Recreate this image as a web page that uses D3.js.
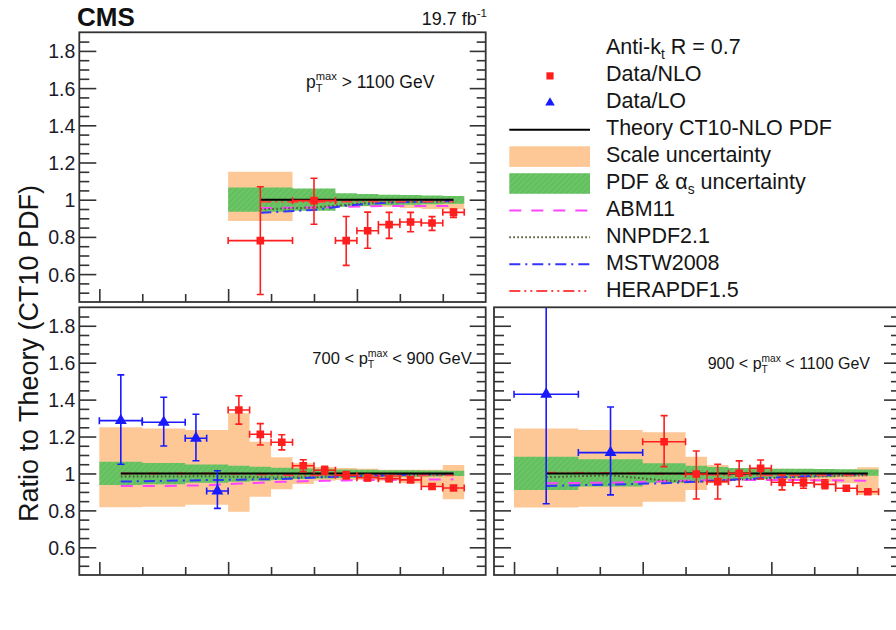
<!DOCTYPE html>
<html>
<head>
<meta charset="utf-8">
<script src="https://cdn.jsdelivr.net/npm/d3@7"></script>
<style>
  body { margin: 0; background: #fff; }
  svg { display: block; }
</style>
</head>
<body>
<svg id="chart" width="896" height="630"></svg>
<script>
// ---------------- data ----------------
// Common axes
const xDomain = [-0.467, 9];
const yDomain = [0.45, 1.9];
const yMajorTicks = [0.6, 0.8, 1.0, 1.2, 1.4, 1.6, 1.8];
const yTickLabels = ["0.6", "0.8", "1", "1.2", "1.4", "1.6", "1.8"];
const xMajorTicks = [0, 3, 6];
const xMinorTicks = [1, 2, 4, 5, 7, 8];
const ct10Ratio = 1.0;

// pT(max) > 1100 GeV
const gt1100Edges   = [3, 4.5, 5.5, 6, 6.5, 7, 7.5, 8, 8.5];
const gt1100ScaleLo = [0.885, 0.958, 0.965, 0.965, 0.962, 0.956, 0.95, 0.948];
const gt1100ScaleHi = [1.15, 1.04, 1.03, 1.025, 1.022, 1.02, 1.02, 1.02];
const gt1100PdfLo   = [0.935, 0.94, 0.962, 0.966, 0.97, 0.973, 0.975, 0.978];
const gt1100PdfHi   = [1.065, 1.06, 1.035, 1.03, 1.027, 1.025, 1.022, 1.02];
const gt1100Abm     = [0.955, 0.958, 0.962, 0.965, 0.966, 0.966, 0.966, 0.966];
const gt1100Nnpdf   = [0.948, 0.958, 0.972, 0.982, 0.986, 0.988, 0.99, 0.99];
const gt1100Mstw    = [0.93, 0.945, 0.968, 0.978, 0.984, 0.988, 0.99, 0.994];
const gt1100Hera    = [0.99, 0.988, 0.99, 0.992, 0.99, 0.99, 0.99, 0.99];
const gt1100NloEdges = [3, 4.5, 5.5, 6, 6.5, 7, 7.5, 8, 8.5];
const gt1100Nlo      = [0.78, 0.995, 0.78, 0.833, 0.866, 0.88, 0.875, 0.932];
const gt1100NloErrLo = [0.29, 0.127, 0.133, 0.094, 0.074, 0.052, 0.04, 0.027];
const gt1100NloErrHi = [0.29, 0.12, 0.13, 0.1, 0.066, 0.052, 0.034, 0.018];
const gt1100LoEdges = [];
const gt1100Lo = [];
const gt1100LoErrLo = [];
const gt1100LoErrHi = [];

// 700 < pT(max) < 900 GeV
const r700Edges   = [0, 1, 2, 3, 3.5, 4, 4.5, 5, 5.5, 6, 6.5, 7, 7.5, 8, 8.5];
const r700ScaleLo = [0.817, 0.82, 0.83, 0.793, 0.874, 0.914, 0.943, 0.96, 0.965, 0.965, 0.96, 0.947, 0.93, 0.86];
const r700ScaleHi = [1.25, 1.243, 1.236, 1.326, 1.172, 1.088, 1.055, 1.035, 1.03, 1.025, 1.02, 1.02, 1.02, 1.046];
const r700PdfLo   = [0.938, 0.942, 0.95, 0.955, 0.96, 0.965, 0.97, 0.973, 0.976, 0.978, 0.98, 0.982, 0.984, 0.986];
const r700PdfHi   = [1.064, 1.056, 1.048, 1.042, 1.036, 1.031, 1.028, 1.025, 1.022, 1.02, 1.018, 1.017, 1.016, 1.015];
const r700Abm     = [0.932, 0.932, 0.936, 0.945, 0.95, 0.955, 0.958, 0.96, 0.962, 0.964, 0.965, 0.966, 0.967, 0.968];
const r700Nnpdf   = [0.983, 0.983, 0.985, 0.982, 0.979, 0.978, 0.98, 0.982, 0.985, 0.987, 0.99, 0.99, 0.992, 0.993];
const r700Mstw    = [0.956, 0.96, 0.964, 0.966, 0.968, 0.97, 0.975, 0.98, 0.985, 0.988, 0.99, 0.993, 0.996, 0.998];
const r700Hera    = [1.0, 1.0, 1.0, 0.998, 0.995, 0.992, 0.99, 0.99, 0.99, 0.988, 0.988, 0.988, 0.99, 0.99];
const r700NloEdges = [3, 3.5, 4, 4.5, 5, 5.5, 6, 6.5, 7, 7.5, 8, 8.5];
const r700Nlo      = [1.344, 1.212, 1.169, 1.042, 1.017, 0.99, 0.977, 0.972, 0.965, 0.929, 0.921];
const r700NloErrLo = [0.077, 0.058, 0.041, 0.032, 0.022, 0.02, 0.017, 0.015, 0.013, 0.012, 0.012];
const r700NloErrHi = [0.077, 0.058, 0.041, 0.032, 0.022, 0.02, 0.017, 0.015, 0.013, 0.012, 0.012];
const r700LoEdges = [0, 1, 2, 2.5, 3];
const r700Lo      = [1.286, 1.277, 1.191, 0.905];
const r700LoErrLo = [0.236, 0.128, 0.122, 0.094];
const r700LoErrHi = [0.248, 0.136, 0.13, 0.11];

// 900 < pT(max) < 1100 GeV
const r900Edges   = [0, 1.5, 3, 4, 4.5, 5, 5.5, 6, 6.5, 7, 7.5, 8, 8.5];
const r900ScaleLo = [0.815, 0.82, 0.847, 0.911, 0.947, 0.962, 0.966, 0.965, 0.96, 0.955, 0.947, 0.884];
const r900ScaleHi = [1.243, 1.236, 1.223, 1.091, 1.046, 1.03, 1.028, 1.025, 1.022, 1.02, 1.02, 1.034];
const r900PdfLo   = [0.911, 0.929, 0.95, 0.96, 0.965, 0.97, 0.972, 0.975, 0.978, 0.98, 0.984, 0.988];
const r900PdfHi   = [1.091, 1.077, 1.055, 1.042, 1.035, 1.03, 1.028, 1.026, 1.025, 1.024, 1.023, 1.022];
const r900Abm     = [0.947, 0.95, 0.958, 0.962, 0.964, 0.965, 0.965, 0.965, 0.964, 0.963, 0.962, 0.961];
const r900Nnpdf   = [0.98, 0.99, 0.962, 0.955, 0.96, 0.966, 0.972, 0.977, 0.981, 0.985, 0.988, 0.99];
const r900Mstw    = [0.932, 0.94, 0.947, 0.955, 0.962, 0.968, 0.974, 0.98, 0.985, 0.99, 0.995, 0.998];
const r900Hera    = [1.004, 1.002, 0.998, 0.995, 0.993, 0.99, 0.99, 0.99, 0.99, 0.99, 0.99, 0.99];
const r900NloEdges = [3, 4, 4.5, 5, 5.5, 6, 6.5, 7, 7.5, 8, 8.5];
const r900Nlo      = [1.172, 0.997, 0.956, 1.001, 1.028, 0.952, 0.949, 0.941, 0.92, 0.901];
const r900NloErrLo = [0.135, 0.135, 0.094, 0.072, 0.058, 0.041, 0.029, 0.024, 0.012, 0.01];
const r900NloErrHi = [0.141, 0.125, 0.094, 0.067, 0.045, 0.04, 0.026, 0.024, 0.012, 0.01];
const r900LoEdges = [0, 1.5, 3];
const r900Lo      = [1.429, 1.113];
const r900LoErrLo = [0.593, 0.229];
const r900LoErrHi = [0.55, 0.247];

// Legend entries
const legendTitle = ["Anti-k", {sub: "t"}, " R = 0.7"];
const legendEntries = [
  {kind: "square",   label: ["Data/NLO"]},
  {kind: "triangle", label: ["Data/LO"]},
  {kind: "theory",   label: ["Theory CT10-NLO PDF"]},
  {kind: "scale",    label: ["Scale uncertainty"]},
  {kind: "pdf",      label: ["PDF & \u03B1", {sub: "s"}, " uncertainty"]},
  {kind: "abm",      label: ["ABM11"]},
  {kind: "nnpdf",    label: ["NNPDF2.1"]},
  {kind: "mstw",     label: ["MSTW2008"]},
  {kind: "hera",     label: ["HERAPDF1.5"]}
];

// ---------------- styles ----------------
const FONT = "'Liberation Sans', Arial, Helvetica, sans-serif";
const COL = {
  scale: "#fdc896",
  red: "#ff1e1e",
  blue: "#1a1aff",
  frame: "#333333"
};
const PDF_LINES = {
  abm:   {stroke: "#ff44ff", dash: "12,10", width: 2},
  nnpdf: {stroke: "#4e5a38", dash: "1.6,2.4", width: 2},
  mstw:  {stroke: "#3434ff", dash: "11,5,2,5", width: 2},
  hera:  {stroke: "#ff4545", dash: "11,4,2,4,2,4", width: 2}
};

const svg = d3.select("#chart");
const defs = svg.append("defs");
const hatch = defs.append("pattern")
  .attr("id", "pdfHatch")
  .attr("patternUnits", "userSpaceOnUse")
  .attr("width", 4).attr("height", 4)
  .attr("patternTransform", "rotate(45)");
hatch.append("rect").attr("width", 4).attr("height", 4).attr("fill", "#6cc667");
hatch.append("line").attr("x1", 1).attr("y1", 0).attr("x2", 1).attr("y2", 4)
  .attr("stroke", "#5db957").attr("stroke-width", 1.2);

// Text made of plain runs plus stacked sub/superscripts
function richText(parent, x, y, parts, size, anchor, weight) {
  const g = parent.append("g")
    .attr("font-family", FONT)
    .attr("font-weight", weight || "normal")
    .attr("fill", "#151515");
  let cx = 0;
  for (const p of parts) {
    if (typeof p === "string") {
      const t = g.append("text").attr("x", cx).attr("y", 0)
        .attr("font-size", size).style("white-space", "pre").text(p);
      cx += t.node().getComputedTextLength();
    } else {
      const small = size * 0.64;
      let w = 0;
      if (p.sub) {
        const t = g.append("text").attr("x", cx).attr("y", size * 0.22)
          .attr("font-size", small).style("white-space", "pre").text(p.sub);
        w = Math.max(w, t.node().getComputedTextLength());
      }
      if (p.sup) {
        const t = g.append("text").attr("x", cx).attr("y", -size * 0.45)
          .attr("font-size", small).style("white-space", "pre").text(p.sup);
        w = Math.max(w, t.node().getComputedTextLength());
      }
      cx += w;
    }
  }
  const shift = anchor === "end" ? -cx : anchor === "middle" ? -cx / 2 : 0;
  g.attr("transform", `translate(${x + shift},${y})`);
  return g;
}

const centersOf = edges => edges.slice(0, -1).map((e, i) => (e + edges[i + 1]) / 2);

function stepRows(edges, lo, hi) {
  return edges.map((e, i) => {
    const k = Math.min(i, lo.length - 1);
    return {x: e, lo: lo[k], hi: hi[k]};
  });
}

let clipId = 0;
function drawPanel(p) {
  const x = d3.scaleLinear().domain(xDomain).range(p.xRange);
  const y = d3.scaleLinear().domain(yDomain).range([p.yRange[1], p.yRange[0]]);
  const g = svg.append("g");

  const id = "clip" + (clipId++);
  defs.append("clipPath").attr("id", id).append("rect")
    .attr("x", p.xRange[0]).attr("y", p.yRange[0])
    .attr("width", p.xRange[1] - p.xRange[0]).attr("height", p.yRange[1] - p.yRange[0]);
  const body = g.append("g").attr("clip-path", `url(#${id})`);

  // uncertainty bands as step areas
  const band = d3.area().curve(d3.curveStepAfter)
    .x(d => x(d.x)).y0(d => y(d.lo)).y1(d => y(d.hi));
  body.append("path").datum(stepRows(p.edges, p.scaleLo, p.scaleHi))
    .attr("d", band).attr("fill", COL.scale);
  body.append("path").datum(stepRows(p.edges, p.pdfLo, p.pdfHi))
    .attr("d", band).attr("fill", "url(#pdfHatch)");

  // alternative PDF sets relative to CT10
  const centers = centersOf(p.edges);
  const line = d3.line().x(d => x(d.x)).y(d => y(d.v));
  for (const key of ["abm", "nnpdf", "mstw", "hera"]) {
    const st = PDF_LINES[key];
    body.append("path")
      .datum(centers.map((c, i) => ({x: c, v: p[key][i]})))
      .attr("d", line).attr("fill", "none")
      .attr("stroke", st.stroke).attr("stroke-width", st.width)
      .attr("stroke-dasharray", st.dash);
  }
  // CT10 reference
  body.append("path")
    .datum([{x: centers[0], v: ct10Ratio}, {x: centers[centers.length - 1], v: ct10Ratio}])
    .attr("d", line).attr("fill", "none").attr("stroke", "#000").attr("stroke-width", 2);

  // data points with error bars
  function points(edges, vals, eLo, eHi, color, shape) {
    const cs = centersOf(edges);
    const cap = 3.5;
    vals.forEach((v, i) => {
      const cx = x(cs[i]), cy = y(v);
      const xl = x(edges[i]), xr = x(edges[i + 1]);
      const yt = y(v + eHi[i]), yb = y(v - eLo[i]);
      const eg = body.append("g").attr("stroke", color).attr("stroke-width", 1.6).attr("fill", "none");
      eg.append("line").attr("x1", xl).attr("x2", xr).attr("y1", cy).attr("y2", cy);
      eg.append("line").attr("x1", xl).attr("x2", xl).attr("y1", cy - cap).attr("y2", cy + cap);
      eg.append("line").attr("x1", xr).attr("x2", xr).attr("y1", cy - cap).attr("y2", cy + cap);
      eg.append("line").attr("x1", cx).attr("x2", cx).attr("y1", yt).attr("y2", yb);
      eg.append("line").attr("x1", cx - cap).attr("x2", cx + cap).attr("y1", yt).attr("y2", yt);
      eg.append("line").attr("x1", cx - cap).attr("x2", cx + cap).attr("y1", yb).attr("y2", yb);
      body.append("path")
        .attr("d", d3.symbol().type(shape).size(shape === d3.symbolSquare ? 58 : 62)())
        .attr("transform", `translate(${cx},${cy})`)
        .attr("fill", color);
    });
  }
  points(p.loEdges, p.lo, p.loErrLo, p.loErrHi, COL.blue, d3.symbolTriangle);
  points(p.nloEdges, p.nlo, p.nloErrLo, p.nloErrHi, COL.red, d3.symbolSquare);

  // axes (ticks point inwards)
  const yMinor = d3.range(0.5, 1.9, 0.05).map(v => +v.toFixed(2)).filter(v => !yMajorTicks.some(m => Math.abs(m - v) < 1e-6));
  const styleAxis = sel => {
    sel.select(".domain").remove();
    sel.selectAll("line").attr("stroke", COL.frame).attr("stroke-width", 1.6);
  };
  const x0 = p.xRange[0], x1 = p.xRange[1], y1 = p.yRange[1];

  g.append("g").attr("transform", `translate(${x0},0)`)
    .call(d3.axisLeft(y).tickValues(yMinor).tickSize(-10).tickFormat(""))
    .call(styleAxis);
  const yl = g.append("g").attr("transform", `translate(${x0},0)`)
    .call(d3.axisLeft(y).tickValues(yMajorTicks).tickSize(-17).tickPadding(4)
      .tickFormat((d, i) => p.labels ? yTickLabels[i] : ""))
    .call(styleAxis);
  yl.attr("font-family", FONT).attr("font-size", 19.5);
  yl.selectAll("text").attr("fill", "#1a1a2a").attr("x", -4).attr("dy", "0.36em");

  g.append("g").attr("transform", `translate(${x1},0)`)
    .call(d3.axisRight(y).tickValues(yMinor).tickSize(-9).tickFormat(""))
    .call(styleAxis);
  g.append("g").attr("transform", `translate(${x1},0)`)
    .call(d3.axisRight(y).tickValues(yMajorTicks).tickSize(-16).tickFormat(""))
    .call(styleAxis);

  g.append("g").attr("transform", `translate(0,${y1})`)
    .call(d3.axisBottom(x).tickValues(xMinorTicks).tickSize(-8).tickFormat(""))
    .call(styleAxis);
  g.append("g").attr("transform", `translate(0,${y1})`)
    .call(d3.axisBottom(x).tickValues(xMajorTicks).tickSize(-13).tickFormat(""))
    .call(styleAxis);

  // frame
  g.append("rect")
    .attr("x", x0).attr("y", p.yRange[0])
    .attr("width", x1 - x0).attr("height", p.yRange[1] - p.yRange[0])
    .attr("fill", "none").attr("stroke", COL.frame).attr("stroke-width", 1.8);

  richText(g, p.noteX, p.noteY, p.note, p.noteSize, p.noteAnchor);
}

const panels = [
  {
    xRange: [79.3, 485.7], yRange: [32.3, 302], labels: true,
    edges: gt1100Edges, scaleLo: gt1100ScaleLo, scaleHi: gt1100ScaleHi,
    pdfLo: gt1100PdfLo, pdfHi: gt1100PdfHi,
    abm: gt1100Abm, nnpdf: gt1100Nnpdf, mstw: gt1100Mstw, hera: gt1100Hera,
    nloEdges: gt1100NloEdges, nlo: gt1100Nlo, nloErrLo: gt1100NloErrLo, nloErrHi: gt1100NloErrHi,
    loEdges: gt1100LoEdges, lo: gt1100Lo, loErrLo: gt1100LoErrLo, loErrHi: gt1100LoErrHi,
    note: ["p", {sub: "T", sup: "max"}, " > 1100 GeV"], noteX: 306, noteY: 88, noteSize: 17.5, noteAnchor: "start"
  },
  {
    xRange: [79.3, 485.7], yRange: [307.3, 575], labels: true,
    edges: r700Edges, scaleLo: r700ScaleLo, scaleHi: r700ScaleHi,
    pdfLo: r700PdfLo, pdfHi: r700PdfHi,
    abm: r700Abm, nnpdf: r700Nnpdf, mstw: r700Mstw, hera: r700Hera,
    nloEdges: r700NloEdges, nlo: r700Nlo, nloErrLo: r700NloErrLo, nloErrHi: r700NloErrHi,
    loEdges: r700LoEdges, lo: r700Lo, loErrLo: r700LoErrLo, loErrHi: r700LoErrHi,
    note: ["700 < p", {sub: "T", sup: "max"}, " < 900 GeV"], noteX: 471.7, noteY: 364, noteSize: 16.5, noteAnchor: "end"
  },
  {
    xRange: [494, 900], yRange: [307.3, 575], labels: false,
    edges: r900Edges, scaleLo: r900ScaleLo, scaleHi: r900ScaleHi,
    pdfLo: r900PdfLo, pdfHi: r900PdfHi,
    abm: r900Abm, nnpdf: r900Nnpdf, mstw: r900Mstw, hera: r900Hera,
    nloEdges: r900NloEdges, nlo: r900Nlo, nloErrLo: r900NloErrLo, nloErrHi: r900NloErrHi,
    loEdges: r900LoEdges, lo: r900Lo, loErrLo: r900LoErrLo, loErrHi: r900LoErrHi,
    note: ["900 < p", {sub: "T", sup: "max"}, " < 1100 GeV"], noteX: 870, noteY: 369, noteSize: 16, noteAnchor: "end"
  }
];
panels.forEach(drawPanel);

// ---------------- titles ----------------
svg.append("text").attr("x", 77).attr("y", 26)
  .attr("font-family", FONT).attr("font-weight", "bold").attr("font-size", 26)
  .attr("fill", "#111").text("CMS");
richText(svg, 487, 25, ["19.7 fb", {sup: "-1"}], 18, "end");

svg.append("text")
  .attr("transform", "translate(38,353.5) rotate(-90)")
  .attr("text-anchor", "middle")
  .attr("font-family", FONT).attr("font-size", 27).attr("fill", "#151515")
  .text("Ratio to Theory (CT10 PDF)");

// ---------------- legend ----------------
const lg = svg.append("g");
const rowY = i => 49 + 26.9 * i;
const symX0 = 509.3, symX1 = 590, symXc = 550, textX = 606;
richText(lg, textX, rowY(0) + 5, legendTitle, 21.5, "start");
legendEntries.forEach((e, k) => {
  const cy = rowY(k + 1);
  if (e.kind === "square") {
    lg.append("path").attr("d", d3.symbol().type(d3.symbolSquare).size(52)())
      .attr("transform", `translate(${symXc},${cy})`).attr("fill", COL.red);
  } else if (e.kind === "triangle") {
    lg.append("path").attr("d", d3.symbol().type(d3.symbolTriangle).size(40)())
      .attr("transform", `translate(${symXc},${cy})`).attr("fill", COL.blue);
  } else if (e.kind === "theory") {
    lg.append("line").attr("x1", symX0).attr("x2", symX1).attr("y1", cy).attr("y2", cy)
      .attr("stroke", "#000").attr("stroke-width", 2);
  } else if (e.kind === "scale" || e.kind === "pdf") {
    lg.append("rect").attr("x", symX0).attr("y", cy - 10.3)
      .attr("width", symX1 - symX0).attr("height", 20.6)
      .attr("fill", e.kind === "scale" ? COL.scale : "url(#pdfHatch)");
  } else {
    const st = PDF_LINES[e.kind];
    lg.append("line").attr("x1", symX0).attr("x2", symX1).attr("y1", cy).attr("y2", cy)
      .attr("stroke", st.stroke).attr("stroke-width", st.width).attr("stroke-dasharray", st.dash);
  }
  richText(lg, textX, cy + 5.5, e.label, 21.5, "start");
});
</script>
</body>
</html>
